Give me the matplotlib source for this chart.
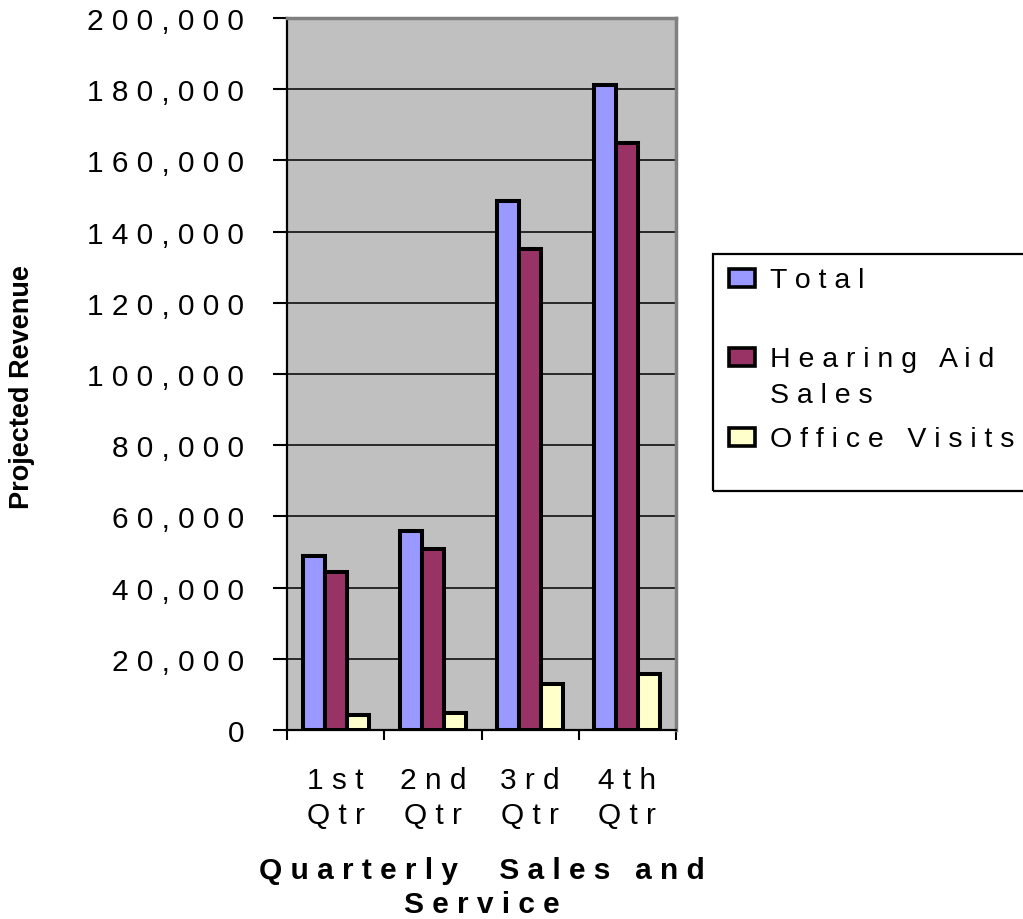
import matplotlib

matplotlib.use("Agg")
import matplotlib.pyplot as plt
import numpy as np
from matplotlib.patches import Rectangle

FONT = "Liberation Sans"

quarters = ["1st\nQtr", "2nd\nQtr", "3rd\nQtr", "4th\nQtr"]
series_names = ["Total", "Hearing Aid\nSales", "Office Visits"]
total = [49000, 55800, 148600, 181200]
hearing_aid_sales = [44400, 50800, 135100, 164800]
office_visits = [4200, 4800, 12900, 15700]
series_colors = ["#9999FF", "#993366", "#FFFFCC"]
y_ticks = list(range(0, 200001, 20000))


def spaced(text, word_gap="   "):
    """Spread letters out like the old Excel chart text"""
    lines = []
    for line in text.split("\n"):
        words = [" ".join(word) for word in line.split(" ") if word]
        lines.append(word_gap.join(words))
    return "\n".join(lines)


def px(x, y):
    """Pixel position (from top-left) to figure fraction"""
    return x / 1023, 1 - y / 920


fig = plt.figure(figsize=(10.23, 9.2), dpi=100)
ax = fig.add_axes([287 / 1023, 1 - 731 / 920, 389 / 1023, 712 / 920])
ax.set_facecolor("#C0C0C0")

x = np.arange(len(quarters))
width = 0.227
all_series = [total, hearing_aid_sales, office_visits]
for i, (values, color) in enumerate(zip(all_series, series_colors)):
    ax.bar(x + (i - 1) * width, values, width, color=color,
           edgecolor="black", linewidth=2.9, zorder=3)

ax.set_xlim(-0.5, len(quarters) - 0.5)
ax.set_ylim(0, 200000)

ax.set_yticks(y_ticks)
ax.set_yticklabels([spaced(f"{v:,}") for v in y_ticks],
                   fontsize=21.5, family=FONT)
ax.tick_params(axis="y", length=10, width=1.5, pad=21, direction="out")
ax.yaxis.grid(True, color="black", linewidth=1.1)
ax.set_axisbelow(True)

ax.set_xticks(x)
ax.set_xticklabels([spaced(q) for q in quarters], fontsize=21.5,
                   family=FONT, linespacing=1.3)
ax.set_xticks(np.arange(-0.5, len(quarters)), minor=True)
ax.tick_params(axis="x", which="major", length=0, pad=26)
ax.tick_params(axis="x", which="minor", length=7.5, width=1.5)

for side in ["top", "right"]:
    ax.spines[side].set_color("#808080")
    ax.spines[side].set_linewidth(2.5)
for side in ["left", "bottom"]:
    ax.spines[side].set_color("black")
    ax.spines[side].set_linewidth(1.6)

fig.text(*px(22, 387), "Projected Revenue", rotation=90, ha="center",
         va="center", fontsize=19.5, fontweight="bold", family=FONT)
x_title = (spaced("Quarterly") + "     " + spaced("Sales") + "   "
           + spaced("and") + "\n" + spaced("Service"))
fig.text(*px(482, 888), x_title, ha="center", va="center", fontsize=21.5,
         fontweight="bold", family=FONT, linespacing=1.28)

# legend drawn by hand to keep the odd Excel spacing
fig.patches.append(Rectangle(px(713, 492), 320 / 1023, 237 / 920,
                             transform=fig.transFigure, fill=False,
                             edgecolor="black", linewidth=1.6))
legend_rows = [279, 358, 438]
for name, color, row in zip(series_names, series_colors, legend_rows):
    fig.patches.append(Rectangle(px(729, row + 9), 26 / 1023, 18 / 920,
                                 transform=fig.transFigure, facecolor=color,
                                 edgecolor="black", linewidth=2.6))
    fig.text(*px(770, row - 11), spaced(name), ha="left", va="top",
             fontsize=20.5, family=FONT, linespacing=1.5)

fig.savefig("out.png", dpi=100, facecolor="white")
